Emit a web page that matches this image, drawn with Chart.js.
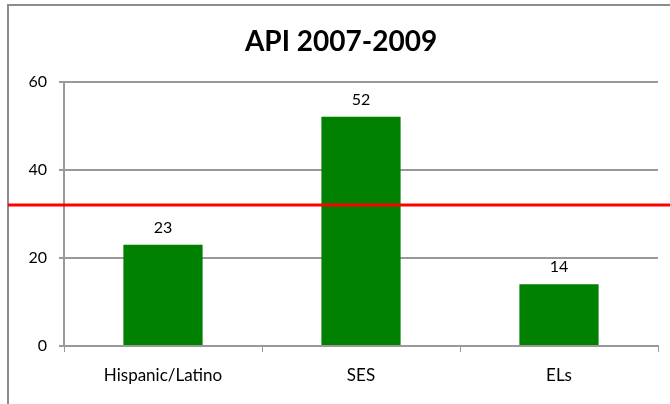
<!DOCTYPE html>
<html>
<head>
<meta charset="utf-8">
<script src="https://cdn.jsdelivr.net/npm/chart.js@4/dist/chart.umd.min.js"></script>
<style>
  html, body { margin: 0; padding: 0; background: #fff; }
  #wrap { width: 670px; height: 404px; position: relative; }
</style>
</head>
<body>
<div id="wrap"><canvas id="c" width="670" height="404"></canvas></div>
<script>
// Subgroup API growth, 2007-2009
const categories = ["Hispanic/Latino", "SES", "ELs"];
const apiGrowth = [23, 52, 14];
const targetLine = 32;
const yTicks = [0, 20, 40, 60];

const FONT = "Lato, 'Open Sans', sans-serif";

// Grey frame around the chart
const framePlugin = {
  id: "frame",
  beforeDraw(chart) {
    const ctx = chart.ctx;
    ctx.save();
    ctx.fillStyle = "#fff";
    ctx.fillRect(0, 0, chart.width, chart.height);
    ctx.strokeStyle = "#8c8c8c";
    ctx.lineWidth = 2;
    ctx.strokeRect(8, 5, chart.width + 10, chart.height + 10);
    ctx.restore();
  }
};

// Value labels above each bar
const valueLabels = {
  id: "valueLabels",
  afterDatasetsDraw(chart) {
    const ctx = chart.ctx;
    const meta = chart.getDatasetMeta(0);
    ctx.save();
    ctx.fillStyle = "#000";
    ctx.font = "16px " + FONT;
    ctx.textAlign = "center";
    ctx.textBaseline = "middle";
    meta.data.forEach((bar, i) => {
      ctx.fillText(String(chart.data.datasets[0].data[i]), bar.x, bar.y - 17);
    });
    ctx.restore();
  }
};

// Red target line spanning the frame
const targetPlugin = {
  id: "target",
  afterDraw(chart) {
    const y = Math.round(chart.scales.y.getPixelForValue(targetLine));
    const ctx = chart.ctx;
    ctx.save();
    ctx.strokeStyle = "#ff0000";
    ctx.lineWidth = 3;
    ctx.beginPath();
    ctx.moveTo(8, y);
    ctx.lineTo(chart.width, y);
    ctx.stroke();
    ctx.restore();
  }
};

new Chart(document.getElementById("c"), {
  type: "bar",
  data: {
    labels: categories,
    datasets: [{
      data: apiGrowth,
      backgroundColor: "#008000",
      borderWidth: 0,
      categoryPercentage: 1.0,
      barPercentage: 0.4
    }]
  },
  options: {
    responsive: false,
    animation: false,
    devicePixelRatio: 1,
    layout: { padding: { left: 24, right: 12, top: 0, bottom: 0 } },
    plugins: {
      legend: { display: false },
      tooltip: { enabled: false },
      title: {
        display: true,
        text: "API 2007-2009",
        color: "#000",
        font: { family: FONT, size: 28, weight: "bold" },
        padding: { top: 25, bottom: 23 }
      }
    },
    scales: {
      x: {
        offset: true,
        afterFit(scale) { scale.height = 58; },
        grid: {
          offset: true,
          drawOnChartArea: false,
          drawTicks: true,
          tickLength: 6,
          color: "#999"
        },
        border: { color: "#999", width: 2 },
        ticks: {
          color: "#000",
          font: { family: FONT, size: 17 },
          padding: 13
        }
      },
      y: {
        min: 0,
        max: 60,
        afterBuildTicks(scale) {
          scale.ticks = yTicks.map(v => ({ value: v }));
        },
        afterFit(scale) { scale.width = 40; },
        grid: { color: "#999", lineWidth: 2, tickLength: 5 },
        border: { color: "#999", width: 2 },
        ticks: {
          color: "#000",
          font: { family: FONT, size: 16 },
          padding: 12
        }
      }
    }
  },
  plugins: [framePlugin, valueLabels, targetPlugin]
});
</script>
</body>
</html>
